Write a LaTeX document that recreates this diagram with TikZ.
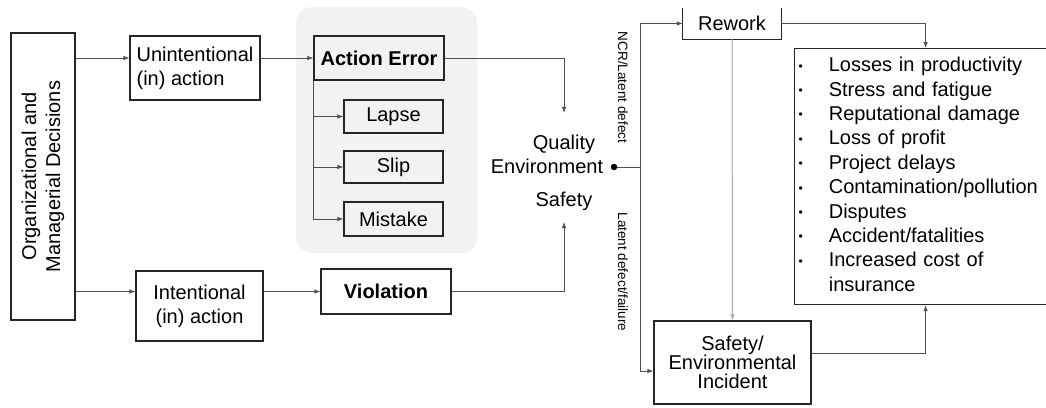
\documentclass[tikz,border=0pt]{standalone}
\usepackage{fontspec}
\setmainfont{Liberation Sans}
\usetikzlibrary{arrows.meta}
\definecolor{bggray}{HTML}{F2F2F2}
\definecolor{wire}{HTML}{505050}
\definecolor{lightwire}{HTML}{A8A8A8}
\definecolor{edge}{HTML}{262626}
\newcommand{\smallbullet}{\raisebox{1.5pt}{\fontsize{12}{12}\selectfont\textbullet}}
\begin{document}
\begin{tikzpicture}[x=1pt,y=-1pt,>={Latex[length=6pt,width=4.5pt]},
  font=\fontsize{20}{24}\selectfont,
  box/.style={draw=edge,line width=1.2pt,inner sep=0pt},
  wirepath/.style={draw=wire,line width=0.8pt},
  sidelabel/.style={rotate=-90,font=\fontsize{13.5}{16}\selectfont}]
\useasboundingbox (0,0) rectangle (1046,407);
\clip (0,0) rectangle (1046,407);
\fill[bggray,rounded corners=16pt] (296,7) rectangle (477,253);
% rotated node: its south anchor is the right side
\node[box,rotate=90,minimum width=287,minimum height=64,align=center] (org) at (43,176.5) {Organizational and\\Managerial Decisions};
\node[box,minimum width=130,minimum height=64,align=left] (unint) at (195,68) {Unintentional\\(in) action};
\node[box,minimum width=127,minimum height=70,align=center] (intent) at (199.5,306) {Intentional\\(in) action};
\node[box,minimum width=130,minimum height=44] (ae) at (379,58) {\textbf{Action Error}};
\foreach \n/\t/\y/\h in {lapse/Lapse/116.5/33,slip/Slip/167/32,mistake/Mistake/219/34}
  \node[box,minimum width=99,minimum height=\h] (\n) at (393.5,\y) {\t};
\node[box,minimum width=130,minimum height=45] (viol) at (386,291.5) {\textbf{Violation}};
\node[align=center,inner xsep=0pt,inner ysep=14pt] (qes) at (564,173) {Quality\\Environment\rule{34pt}{0pt}\\[9pt]Safety};
\node[minimum width=98,minimum height=31,inner sep=0pt] (rework) at (732,23.5) {Rework};
\draw[box] (rework.north west) -- (rework.south west) -- (rework.south east) -- (rework.north east);
\node[box,minimum width=157,minimum height=83,align=center,font=\fontsize{20}{19}\selectfont] (safety) at (732.5,362.5) {Safety/\\Environmental\\Incident};
\node[box,anchor=north west,minimum width=262,minimum height=256,text width=254,inner xsep=4pt,align=left] (list) at (794,48)
  {\fontsize{20}{24.4}\selectfont\noindent\begin{tabular}{@{}l@{\hspace{26pt}}l@{}}
  \smallbullet & Losses in productivity\\
  \smallbullet & Stress and fatigue\\
  \smallbullet & Reputational damage\\
  \smallbullet & Loss of profit\\
  \smallbullet & Project delays\\
  \smallbullet & Contamination/pollution\\
  \smallbullet & Disputes\\
  \smallbullet & Accident/fatalities\\
  \smallbullet & Increased cost of\\
  & insurance
  \end{tabular}};
\node[sidelabel] (ncr) at (623,87.5) {NCR/Latent defect};
\node[sidelabel] (latent) at (623,272) {Latent defect/failure};

\draw[wirepath,->] (org.south |- ae) -- (unint.west |- ae);
\draw[wirepath,->] (org.south |- viol) -- (intent.west |- viol);
\draw[wirepath,->] (unint.east |- ae) -- (ae.west);
\draw[wirepath,->] (intent.east |- viol) -- (viol.west);
\draw[wirepath] (ae.south west) -- (ae.south west |- mistake);
\foreach \n in {lapse,slip,mistake}
  \draw[wirepath,->] (ae.south west |- \n) -- (\n.west);
\draw[wirepath,->] (ae.east) -| ([yshift=8pt]qes.north);
\draw[wirepath,->] (viol.east) -| ([yshift=3pt]qes.south);
\node[circle,fill=black,inner sep=0pt,minimum size=6.5] (dot) at (614,167) {};
\coordinate (fork) at (640,167);
\draw[wirepath] (dot) -- (fork);
\draw[wirepath,->] (fork) |- (rework.west);
\draw[wirepath,->] (fork) |- ([yshift=-8.5pt]safety.west);
\draw[draw=lightwire,line width=1pt,->] (rework.south) -- (safety.north);
\draw[wirepath,->] (rework.east) -| (list.north);
\draw[wirepath,->] ([yshift=9.5pt]safety.east) -| (list.south);
\end{tikzpicture}
\end{document}
